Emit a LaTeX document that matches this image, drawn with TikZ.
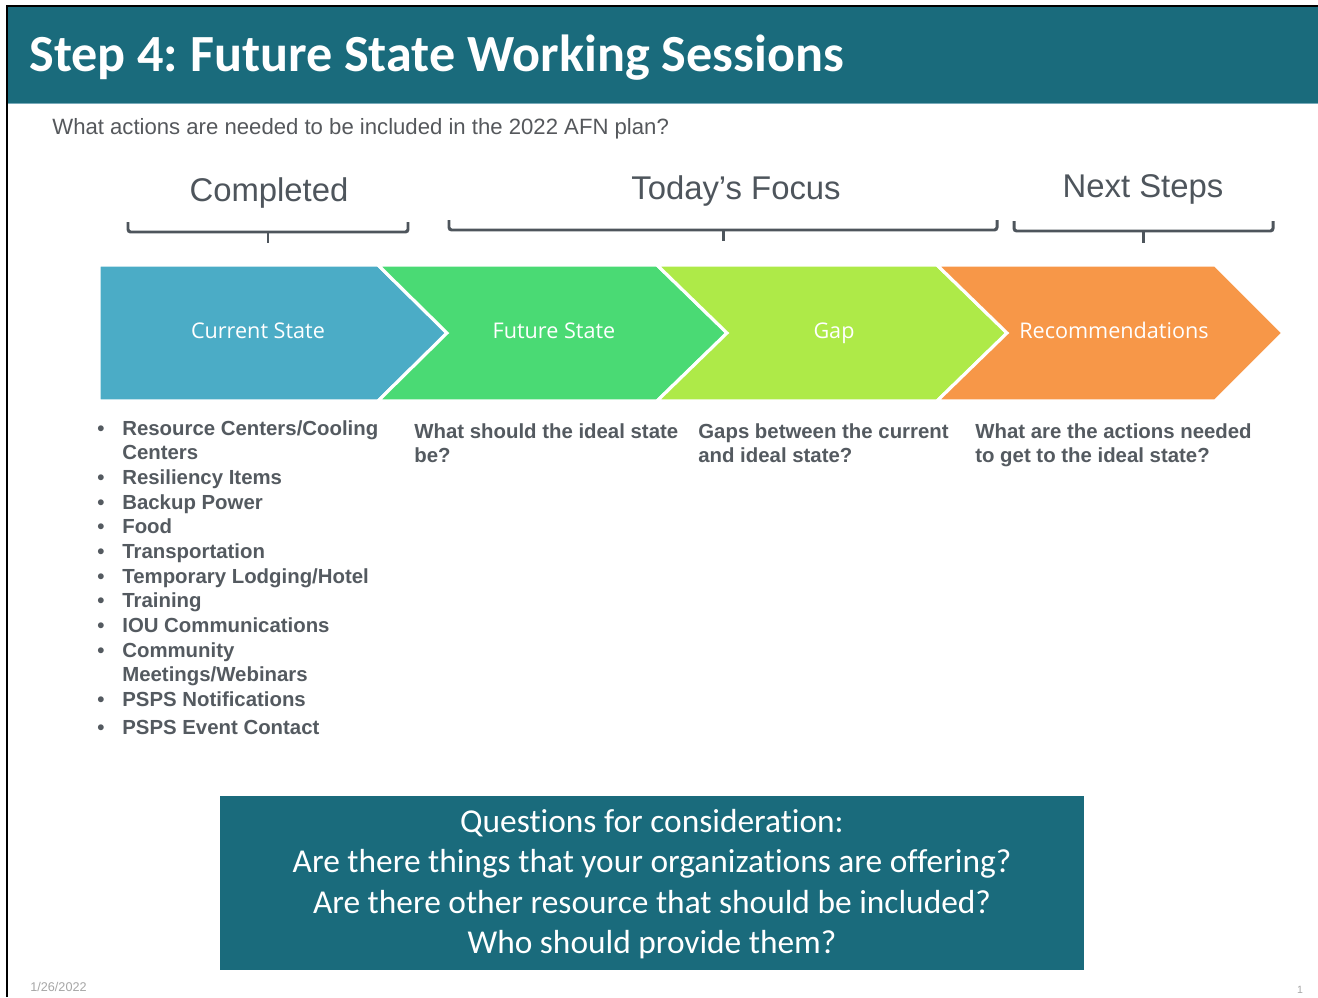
\documentclass[tikz,border=0pt]{standalone}
\usepackage{fontspec}
\setmainfont{Liberation Sans}
\newfontfamily\calibri[Ligatures=NoCommon]{Carlito}
\newfontfamily\segoe{Open Sans}
\usepackage{tikz}
\usetikzlibrary{positioning}
\definecolor{slideTeal}{RGB}{26,107,124}
\definecolor{slideEdge}{RGB}{120,170,185}
\definecolor{headGray}{RGB}{78,85,92}
\definecolor{noteGray}{RGB}{84,90,96}
\definecolor{askGray}{RGB}{85,88,92}
\definecolor{chevBlue}{RGB}{75,172,198}
\definecolor{chevGreen}{RGB}{74,218,116}
\definecolor{chevLime}{RGB}{174,234,72}
\definecolor{chevOrange}{RGB}{247,151,72}
\newlength{\pxu}
\setlength{\pxu}{0.02cm}
\newcommand{\bitem}[1]{\makebox[25\pxu][l]{\textbullet}#1}
\frenchspacing

\begin{document}
\begin{tikzpicture}[
    x=0.02cm, y=-0.02cm,
    bar/.style={fill=slideTeal, draw=none},
    heading/.style={font=\fontsize{18.7}{22}\selectfont, text=headGray, inner sep=0},
    bracket/.style={draw=headGray, line width=1.7pt, rounded corners=1.5pt},
    chev/.style={draw=white, line width=1.8pt, line join=miter},
    chevlabel/.style={font=\segoe\fontsize{12.3}{15}\selectfont, text=white, inner sep=0, text height=1.75ex, text depth=0.3ex},
    note/.style={font=\bfseries\fontsize{11.6}{14.05}\selectfont, text=noteGray, align=left, anchor=north west, inner sep=0}
]
    \useasboundingbox (0,0) rectangle (1318,997);
    \fill[white] (0,0) rectangle (1318,997);

    % title bar and frame
    \fill[slideTeal] (8,7) rectangle (1318,103);
    \draw[slideEdge, line width=0.6pt] (8,103.5) -- (1318,103.5);
    \draw[black, line width=1.2pt] (7,997) -- (7,6) -- (1318,6);
    \node[anchor=west, font=\calibri\bfseries\fontsize{29.7}{34}\selectfont, text=white, inner sep=0] (title) at (29,58) {Step 4: Future State Working Sessions};
    \node[anchor=base west, font=\fontsize{12.6}{15}\selectfont, text=askGray, inner sep=0] (ask) at (52,134) {What actions are needed to be included in the 2022 AFN plan?};

    % stage headings with brackets
    \node[heading] (done) at (269,193) {Completed};
    \node[heading] (focus) at (736,191) {Today’s Focus};
    \node[heading] (next) at (1143,189) {Next Steps};
    \draw[bracket] (128,222) -- (128,232) -- (408,232) -- (408,222);
    \draw[bracket] (268,232) -- (268,243);
    \draw[bracket] (449,220) -- (449,230) -- (997,230) -- (997,220);
    \draw[bracket] (723,230) -- (723,241);
    \draw[bracket] (1014,221) -- (1014,231) -- (1273,231) -- (1273,221);
    \draw[bracket] (1143,231) -- (1143,243);

    % chevrons
    \filldraw[chev, fill=chevBlue] (99,265) -- (378,265) -- (447,333) -- (378,401) -- (99,401) -- cycle;
    \filldraw[chev, fill=chevGreen] (378,265) -- (657,265) -- (727,333) -- (657,401) -- (378,401) -- (447,333) -- cycle;
    \filldraw[chev, fill=chevLime] (657,265) -- (937,265) -- (1007,333) -- (937,401) -- (657,401) -- (727,333) -- cycle;
    \filldraw[chev, fill=chevOrange] (937,265) -- (1215,265) -- (1283,333) -- (1215,401) -- (937,401) -- (1007,333) -- cycle;
    \node[chevlabel] (current) at (258,332) {Current State};
    \node[chevlabel] (future) at (554,332) {Future State};
    \node[chevlabel] (gap) at (834,332) {Gap};
    \node[chevlabel] (recs) at (1114,332) {Recommendations};

    % notes under each stage
    \node[note] (items) at (97,420) {%
        \bitem{Resource Centers/Cooling}\\
        \hspace*{25\pxu}Centers\\
        \bitem{Resiliency Items}\\
        \bitem{Backup Power}\\
        \bitem{Food}\\
        \bitem{Transportation}\\
        \bitem{Temporary Lodging/Hotel}\\
        \bitem{Training}\\
        \bitem{IOU Communications}\\
        \bitem{Community}\\
        \hspace*{25\pxu}Meetings/Webinars\\
        \bitem{PSPS Notifications}\\[1.8pt]
        \bitem{PSPS Event Contact}};
    \node[note] (ideal) at (414,423) {What should the ideal state\\be?};
    \node[note] (gaps) at (698,423) {Gaps between the current\\and ideal state?};
    \node[note] (actions) at (975,423) {What are the actions needed\\to get to the ideal state?};

    % questions box
    \draw[bar] (220,796) rectangle (1084,970);
    \node[align=center, font=\calibri\fontsize{19}{22.9}\selectfont, text=white] (questions) at (652,884) {%
        Questions for consideration:\\
        Are there things that your organizations are offering?\\
        Are there other resource that should be included?\\
        Who should provide them?};

    % footer
    \node[anchor=base west, font=\fontsize{7.2}{8}\selectfont, text=gray!70, inner sep=0] (date) at (30,991) {1/26/2022};
    \node[anchor=base, font=\fontsize{6}{7}\selectfont, text=gray!70, inner sep=0] (page) at (1300,993) {1};
\end{tikzpicture}
\end{document}
